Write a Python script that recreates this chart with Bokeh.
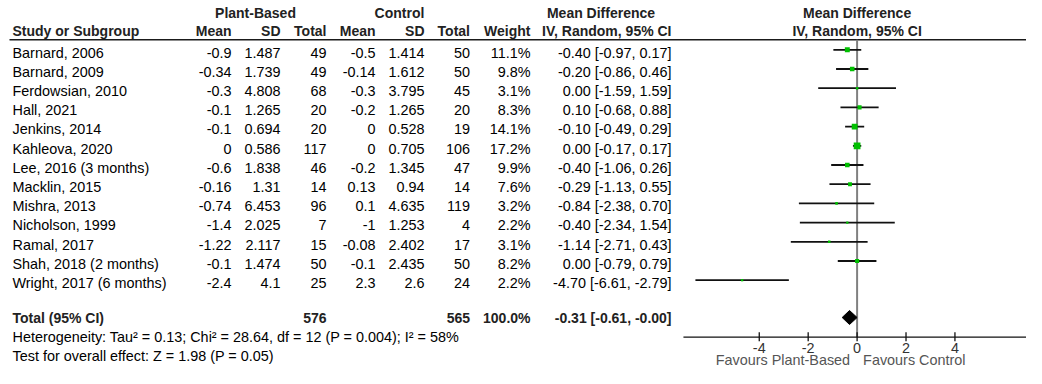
from bokeh.plotting import figure
from bokeh.models import Range1d, ColumnDataSource
from bokeh.core.properties import value
from bokeh.embed import file_html
from bokeh.resources import INLINE

# ---------------- data ----------------
studies = ["Barnard, 2006", "Barnard, 2009", "Ferdowsian, 2010", "Hall, 2021",
           "Jenkins, 2014", "Kahleova, 2020", "Lee, 2016 (3 months)", "Macklin, 2015",
           "Mishra, 2013", "Nicholson, 1999", "Ramal, 2017", "Shah, 2018 (2 months)",
           "Wright, 2017 (6 months)"]
pb_mean = [-0.9, -0.34, -0.3, -0.1, -0.1, 0, -0.6, -0.16, -0.74, -1.4, -1.22, -0.1, -2.4]
pb_sd = [1.487, 1.739, 4.808, 1.265, 0.694, 0.586, 1.838, 1.31, 6.453, 2.025, 2.117, 1.474, 4.1]
pb_n = [49, 49, 68, 20, 20, 117, 46, 14, 96, 7, 15, 50, 25]
ctl_mean = [-0.5, -0.14, -0.3, -0.2, 0, 0, -0.2, 0.13, 0.1, -1, -0.08, -0.1, 2.3]
ctl_sd = [1.414, 1.612, 3.795, 1.265, 0.528, 0.705, 1.345, 0.94, 4.635, 1.253, 2.402, 2.435, 2.6]
ctl_n = [50, 50, 45, 20, 19, 106, 47, 14, 119, 4, 17, 50, 24]
weight = [11.1, 9.8, 3.1, 8.3, 14.1, 17.2, 9.9, 7.6, 3.2, 2.2, 3.1, 8.2, 2.2]
md = [-0.40, -0.20, 0.00, 0.10, -0.10, 0.00, -0.40, -0.29, -0.84, -0.40, -1.14, 0.00, -4.70]
ci_lo = [-0.97, -0.86, -1.59, -0.68, -0.49, -0.17, -1.06, -1.13, -2.38, -2.34, -2.71, -0.79, -6.61]
ci_hi = [0.17, 0.46, 1.59, 0.88, 0.29, 0.17, 0.26, 0.55, 0.70, 1.54, 0.43, 0.79, -2.79]

total_label = "Total (95% CI)"
total_pb_n = 576
total_ctl_n = 565
total_weight = 100.0
total_md = -0.31
total_lo = -0.61
total_hi = -0.0

heterogeneity = "Heterogeneity: Tau\u00b2 = 0.13; Chi\u00b2 = 28.64, df = 12 (P = 0.004); I\u00b2 = 58%"
overall_effect = "Test for overall effect: Z = 1.98 (P = 0.05)"
axis_ticks = [-4, -2, 0, 2, 4]
axis_bounds = [-7.1, 7.1]
favours_left = "Favours Plant-Based"
favours_right = "Favours Control"

# ---------------- layout ----------------
W, H = 1026, 368
UNIT = 24.46        # pixels per md unit
zero_px = 856.6     # pixel of md = 0
FONT = value("Liberation Sans")
REG = "14.4px"
BOLD = "14px"

p = figure(width=W, height=H, output_backend="svg", toolbar_location=None,
           x_range=Range1d(0, W), y_range=Range1d(H, 0),
           x_axis_location=None, y_axis_location=None,
           min_border=0, min_border_left=0, min_border_right=0,
           min_border_top=0, min_border_bottom=0)
p.grid.visible = False
p.outline_line_color = None
p.background_fill_color = "white"
p.border_fill_color = "white"
p.extra_x_ranges = {"md": Range1d((0 - zero_px) / UNIT, (W - zero_px) / UNIT)}

n = len(studies)
row_mark = [49.3 + 19.2 * i for i in range(n)]
row_text = [52.0 + 19.2 * i for i in range(n)]
y_hdr1, y_hdr2 = 12.0, 30.5
y_line = 39.3
y_total = 317.0
y_het, y_test = 336.7, 355.0
y_axis = 336.7


def txt(x, y, t, align="left", bold=False, color="black", xr="default", x_off=0, size=None):
    tl = t if isinstance(t, list) else [t]
    src = ColumnDataSource(dict(x=x if isinstance(x, list) else [x] * len(tl),
                                y=y if isinstance(y, list) else [y] * len(tl),
                                t=tl))
    p.text(x="x", y="y", text="t", source=src, text_align=align, text_baseline="middle",
           text_font=FONT, text_font_size=size or (BOLD if bold else REG),
           text_font_style="bold" if bold else "normal", text_color=color,
           x_range_name=xr, x_offset=x_off)


# header line and zero line
p.segment(x0=[9], y0=[y_line], x1=[W], y1=[y_line], line_color="#1a1a1a", line_width=1.6)
p.segment(x0=[0], y0=[y_line], x1=[0], y1=[y_axis], line_color="#808080", line_width=2,
          x_range_name="md")

# CI lines, markers
p.segment(x0=ci_lo, y0=row_mark, x1=ci_hi, y1=row_mark, line_color="#111111", line_width=1.8,
          x_range_name="md")
sizes = [1.6 + 0.3 * w for w in weight]
p.scatter(x=md, y=row_mark, size=sizes, marker="square", fill_color="#00c000",
          line_color=None, x_range_name="md")

# diamond
p.patch(x=[total_lo, total_md, total_hi, total_md], y=[y_total, y_total - 7, y_total, y_total + 7],
        fill_color="black", line_color="black", line_width=1, x_range_name="md")

# axis
p.segment(x0=[axis_bounds[0]], y0=[y_axis], x1=[axis_bounds[1]], y1=[y_axis],
          line_color="#111111", line_width=1.3, x_range_name="md")
p.segment(x0=axis_ticks, y0=[y_axis - 5] * len(axis_ticks), x1=axis_ticks,
          y1=[y_axis + 4] * len(axis_ticks), line_color="#111111", line_width=1.3, x_range_name="md")
txt(axis_ticks, [347.0] * len(axis_ticks), [str(t) for t in axis_ticks], align="center",
    color="#333333", xr="md")
txt(0, 359.5, favours_left, align="right", color="#555555", xr="md", x_off=-7)
txt(0, 359.5, favours_right, align="left", color="#555555", xr="md", x_off=6)

# headers
txt(255, y_hdr1, "Plant-Based", align="center", bold=True, color="#222222")
txt(399, y_hdr1, "Control", align="center", bold=True, color="#222222")
txt(600.5, y_hdr1, "Mean Difference", align="center", bold=True, color="#222222")
txt(0, y_hdr1, "Mean Difference", align="center", bold=True, color="#222222", xr="md")
txt(12, y_hdr2, "Study or Subgroup", bold=True, color="#222222")
col_right = [231, 280, 326, 375, 424, 469.5, 530, 671]
hdr2 = ["Mean", "SD", "Total", "Mean", "SD", "Total", "Weight", "IV, Random, 95% CI"]
for xr_, h in zip(col_right, hdr2):
    txt(xr_, y_hdr2, h, align="right", bold=True, color="#222222")
txt(0, y_hdr2, "IV, Random, 95% CI", align="center", bold=True, color="#222222", xr="md")

# study rows
txt([12] * n, row_text, studies)
cols = [
    [f"{v:g}" for v in pb_mean],
    [f"{v:g}" for v in pb_sd],
    [str(v) for v in pb_n],
    [f"{v:g}" for v in ctl_mean],
    [f"{v:g}" for v in ctl_sd],
    [str(v) for v in ctl_n],
    [f"{v:.1f}%" for v in weight],
    [f"{m:.2f} [{a:.2f}, {b:.2f}]" for m, a, b in zip(md, ci_lo, ci_hi)],
]
for xr_, c in zip(col_right, cols):
    txt([xr_] * n, row_text, c, align="right")

# total row
txt(12, y_total, total_label, bold=True, color="#222222")
txt(col_right[2], y_total, str(total_pb_n), align="right", bold=True, color="#222222")
txt(col_right[5], y_total, str(total_ctl_n), align="right", bold=True, color="#222222")
txt(col_right[6], y_total, f"{total_weight:.1f}%", align="right", bold=True, color="#222222")
txt(col_right[7], y_total, f"{total_md:.2f} [{total_lo:.2f}, {total_hi:.2f}]", align="right",
    bold=True, color="#222222")

txt(12, y_het, heterogeneity)
txt(12, y_test, overall_effect)

open("out.html", "w").write(file_html(p, INLINE))
